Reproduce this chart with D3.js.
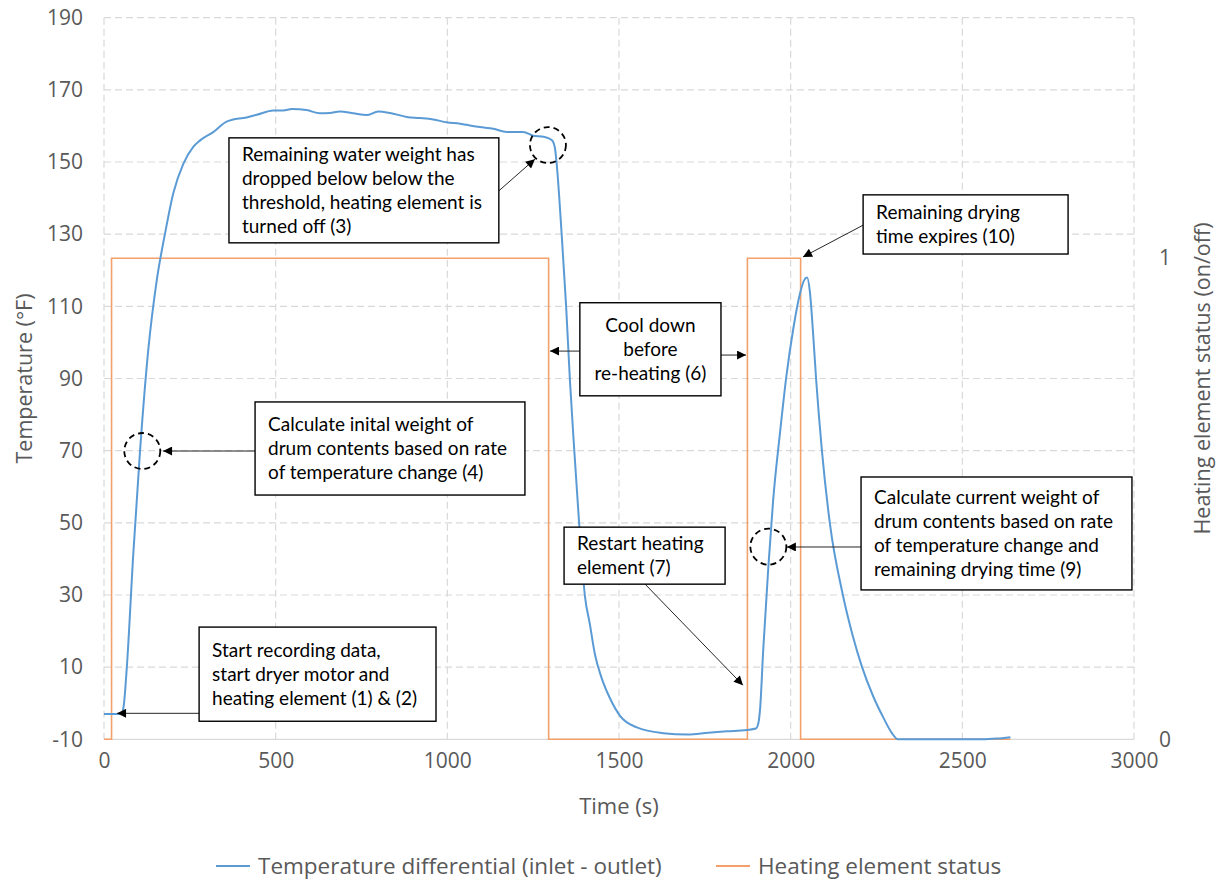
<!DOCTYPE html>
<html>
<head>
<meta charset="utf-8">
<script src="https://cdn.jsdelivr.net/npm/d3@7"></script>
<style>
  html, body { margin: 0; padding: 0; background: #ffffff; }
  svg { display: block; }
</style>
</head>
<body>
<svg id="chart" width="1219" height="884"></svg>
<script>
// Temperature differential (inlet - outlet), °F, sampled over time (s)
const tempTime = [0, 30, 50, 57, 66, 85, 105, 129, 153, 178, 202, 231, 260, 280, 318, 357, 376, 406, 445, 493,
  522, 547, 590, 629, 658, 687, 726, 765, 799, 833, 882, 920, 959, 998, 1037, 1056, 1095, 1134, 1173, 1221,
  1250, 1280, 1304, 1313, 1318, 1333, 1346, 1357, 1370, 1384, 1401, 1415, 1430, 1449, 1474, 1503, 1552, 1629,
  1700, 1760, 1814, 1872, 1899, 1906, 1911, 1920, 1935, 1949, 1969, 1988, 2008, 2027, 2039, 2048, 2056, 2065,
  2074, 2091, 2114, 2152, 2180, 2208, 2240, 2270, 2295, 2312, 2400, 2500, 2560, 2600, 2640];
const tempValues = [-3, -3, -3, -1, 9.3, 40.9, 70, 98, 116.8, 130.3, 141.4, 149.5, 154.2, 156, 158.3, 161.2, 161.8, 162.2, 163.1, 164.3,
  164.3, 164.7, 164.4, 163.5, 163.6, 164, 163.5, 163, 164, 163.6, 162.5, 162.2, 161.8, 161, 160.6, 160.3, 159.7, 159.2, 158.3, 158.3,
  157.3, 157, 156.1, 154.1, 150, 130, 110, 89.6, 69.7, 49.7, 29.5, 22, 13.5, 7.1, 1.3, -3.5, -6.7, -8.3,
  -8.7, -8.2, -7.8, -7.4, -7, -5.5, -1.5, 14.7, 37.8, 56.3, 75, 91, 104, 113.5, 117.2, 118, 114, 103,
  90, 70, 50, 30, 19, 10, 2, -4, -8.3, -10, -10, -10, -10, -9.8, -9.4];

// Heating element status (1 = on, 0 = off)
const heatTime   = [0, 22, 22, 1295, 1295, 1874, 1874, 2029, 2029, 2640];
const heatStatus = [0, 0, 1, 1, 0, 0, 1, 1, 0, 0];

// Axis ticks
const xTicks = [0, 500, 1000, 1500, 2000, 2500, 3000];
const yTicks = [-10, 10, 30, 50, 70, 90, 110, 130, 150, 170, 190];
const y2Ticks = [0, 1];

// Annotation call-outs, placed in data units (time, °F)
const notes = [
  { lines: ["Remaining water weight has", "dropped below below the", "threshold, heating element is", "turned off (3)"],
    box: [364, 1150, 156.7, 127.6], align: "start",
    arrows: [[1150, 142, 1255, 150.8]], circle: [1293, 154.7] },
  { lines: ["Remaining drying", "time expires (10)"],
    box: [2211, 2808, 140.9, 124.5], align: "start",
    arrows: [[2211, 132.5, 2036, 123.7]] },
  { lines: ["Cool down", "before", "re-heating (6)"],
    box: [1386, 1797, 111, 85.2], align: "middle",
    arrows: [[1386, 97.6, 1299, 97.6], [1797, 96.5, 1870, 96.5]] },
  { lines: ["Calculate inital weight of", "drum contents based on rate", "of temperature change (4)"],
    box: [440, 1226, 83.5, 57.7], align: "start",
    arrows: [[440, 69.9, 172, 69.9]], circle: [111.5, 69.9] },
  { lines: ["Start recording data,", "start dryer motor and", "heating element (1) & (2)"],
    box: [277, 967, 21.1, -5.0], align: "start",
    arrows: [[277, -2.8, 38, -2.8]] },
  { lines: ["Restart heating", "element (7)"],
    box: [1340, 1809, 48.8, 33.0], align: "start",
    arrows: [[1576, 33.0, 1861, 5.0]] },
  { lines: ["Calculate current weight of", "drum contents based on rate", "of temperature change and", "remaining drying time (9)"],
    box: [2205, 2994, 62.7, 31.4], align: "start",
    arrows: [[2205, 43.3, 1989, 43.3]], circle: [1935, 43.4] }
];

const svg = d3.select("#chart");
const W = 1219, H = 884;
const margin = { left: 104, top: 17.7, right: W - 1134, bottom: H - 739.3 };
const pw = W - margin.left - margin.right;
const ph = H - margin.top - margin.bottom;

const x = d3.scaleLinear().domain([0, 3000]).range([0, pw]);
const y = d3.scaleLinear().domain([-10, 190]).range([ph, 0]);
const y2 = d3.scaleLinear().domain([0, 1.5]).range([ph, 0]);

const tickFont = "'Open Sans', 'DejaVu Sans', sans-serif";
const noteFont = "Lato, 'Open Sans', sans-serif";
const grey = "#595959";
const plain = d => String(d);

const defs = svg.append("defs");
defs.append("marker")
  .attr("id", "arrowhead")
  .attr("viewBox", "0 0 10 10")
  .attr("refX", 10).attr("refY", 5)
  .attr("markerWidth", 11).attr("markerHeight", 9)
  .attr("markerUnits", "userSpaceOnUse")
  .attr("orient", "auto")
  .append("path").attr("d", "M0,0 L10,5 L0,10 Z").attr("fill", "#000");

const g = svg.append("g").attr("transform", `translate(${margin.left},${margin.top})`);

// Gridlines
g.append("g").selectAll("line").data(yTicks.filter(v => v !== -10)).join("line")
  .attr("x1", 0).attr("x2", pw)
  .attr("y1", d => y(d)).attr("y2", d => y(d))
  .attr("stroke", "#d9d9d9").attr("stroke-width", 1.2).attr("stroke-dasharray", "7,4");
g.append("g").selectAll("line").data(xTicks).join("line")
  .attr("y1", 0).attr("y2", ph)
  .attr("x1", d => x(d)).attr("x2", d => x(d))
  .attr("stroke", "#d9d9d9").attr("stroke-width", 1.2).attr("stroke-dasharray", "7,4");

// Bottom axis line
g.append("line").attr("x1", 0).attr("x2", pw).attr("y1", ph).attr("y2", ph)
  .attr("stroke", "#d9d9d9").attr("stroke-width", 1.2);

// Tick labels via d3 axes
const xAxis = g.append("g").attr("transform", `translate(0,${ph})`)
  .call(d3.axisBottom(x).tickValues(xTicks).tickSize(0).tickPadding(14).tickFormat(plain));
const yAxis = g.append("g")
  .call(d3.axisLeft(y).tickValues(yTicks).tickSize(0).tickPadding(21).tickFormat(plain));
const y2Axis = g.append("g").attr("transform", `translate(${pw},0)`)
  .call(d3.axisRight(y2).tickValues(y2Ticks).tickSize(0).tickPadding(25).tickFormat(plain));
[xAxis, yAxis, y2Axis].forEach(a => {
  a.select(".domain").remove();
  a.selectAll("text").attr("fill", grey).style("font-family", tickFont).style("font-size", "21px");
});
xAxis.selectAll("text").attr("dy", "0.71em");

// Heating element status (right axis)
const heatData = heatTime.map((t, i) => [t, heatStatus[i]]);
g.append("path").datum(heatData)
  .attr("d", d3.line().x(d => x(d[0])).y(d => y2(d[1])))
  .attr("fill", "none").attr("stroke", "#f3a06b").attr("stroke-width", 1.6);

// Temperature differential
const tempData = tempTime.map((t, i) => [t, tempValues[i]]);
g.append("path").datum(tempData)
  .attr("d", d3.line().x(d => x(d[0])).y(d => y(d[1])).curve(d3.curveMonotoneX))
  .attr("fill", "none").attr("stroke", "#5b9bd5").attr("stroke-width", 2);

// Annotations
const ng = g.append("g");
notes.forEach(n => {
  n.arrows.forEach(a => {
    ng.append("line")
      .attr("x1", x(a[0])).attr("y1", y(a[1]))
      .attr("x2", x(a[2])).attr("y2", y(a[3]))
      .attr("stroke", "#262626").attr("stroke-width", 1)
      .attr("marker-end", "url(#arrowhead)");
  });
  if (n.circle) {
    ng.append("circle")
      .attr("cx", x(n.circle[0])).attr("cy", y(n.circle[1])).attr("r", 18)
      .attr("fill", "none").attr("stroke", "#000").attr("stroke-width", 1.8)
      .attr("stroke-dasharray", "6,4");
  }
  const bx0 = x(n.box[0]), bx1 = x(n.box[1]);
  const by0 = y(n.box[2]), by1 = y(n.box[3]);
  ng.append("rect")
    .attr("x", bx0).attr("y", by0).attr("width", bx1 - bx0).attr("height", by1 - by0)
    .attr("fill", "#fff").attr("stroke", "#000").attr("stroke-width", 1.4);
  const lh = 23.8;
  const total = lh * n.lines.length;
  const top = (by0 + by1) / 2 - total / 2;
  const tx = n.align === "middle" ? (bx0 + bx1) / 2 : bx0 + 13;
  ng.append("text")
    .attr("text-anchor", n.align)
    .style("font-family", noteFont).style("font-size", "19px").attr("fill", "#000")
    .selectAll("tspan").data(n.lines).join("tspan")
    .attr("x", tx)
    .attr("y", (d, i) => top + lh * i + lh / 2)
    .attr("dy", "0.35em")
    .text(d => d);
});

// Axis titles
svg.append("text")
  .attr("transform", `translate(24,${margin.top + ph / 2}) rotate(-90)`)
  .attr("text-anchor", "middle").attr("dy", "0.35em")
  .attr("fill", grey).style("font-family", tickFont).style("font-size", "21.5px")
  .text("Temperature (°F)");
svg.append("text")
  .attr("transform", `translate(1202,${margin.top + ph / 2}) rotate(-90)`)
  .attr("text-anchor", "middle").attr("dy", "0.35em")
  .attr("fill", grey).style("font-family", tickFont).style("font-size", "21.5px")
  .text("Heating element status (on/off)");
svg.append("text")
  .attr("x", margin.left + pw / 2 + 0).attr("y", 806)
  .attr("text-anchor", "middle").attr("dy", "0.35em")
  .attr("fill", grey).style("font-family", tickFont).style("font-size", "22px")
  .text("Time (s)");

// Legend
const legendItems = [
  { label: "Temperature differential (inlet - outlet)", color: "#5b9bd5", x: 216 },
  { label: "Heating element status", color: "#f3a06b", x: 716 }
];
const lg = svg.append("g").attr("transform", "translate(0,866)");
legendItems.forEach(it => {
  lg.append("line").attr("x1", it.x).attr("x2", it.x + 34).attr("y1", 0).attr("y2", 0)
    .attr("stroke", it.color).attr("stroke-width", 2);
  lg.append("text").attr("x", it.x + 42).attr("y", 0).attr("dy", "0.35em")
    .attr("fill", grey).style("font-family", tickFont).style("font-size", "22.5px")
    .text(it.label);
});
</script>
</body>
</html>
